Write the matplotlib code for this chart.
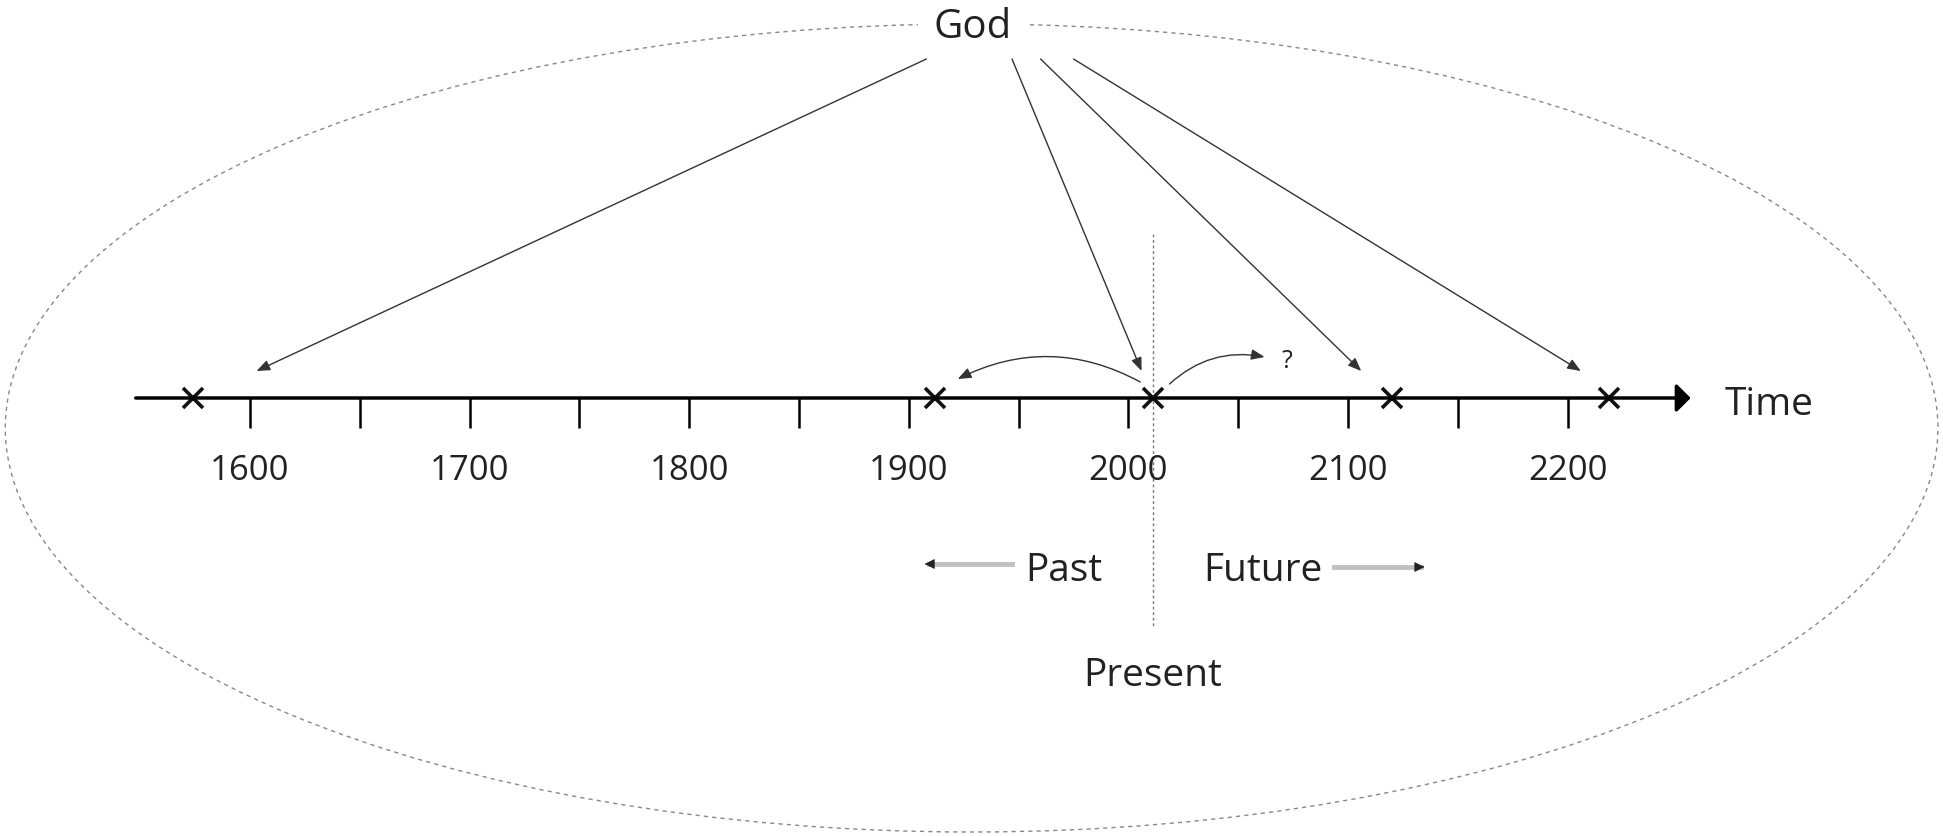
import numpy as np
import matplotlib.pyplot as plt
from matplotlib.patches import Ellipse

plt.rcParams["font.family"] = ["Open Sans", "DejaVu Sans"]

# timeline data (years)
tick_years = np.arange(1600, 2201, 50)
label_years = [1600, 1700, 1800, 1900, 2000, 2100, 2200]
event_years = [1574, 1912, 2011, 2120, 2219]
present_year = 2011
god_from = [1908, 1947, 1960, 1975]  # where the arrows leave "God"
god_to = [1603, 2006, 2106, 2206]  # where they land on the timeline
axis_start, axis_end = 1548, 2256

AXIS_Y = 399  # vertical layout is in pixel rows
TXT = "#222222"

fig = plt.figure(figsize=(19.43, 8.37), dpi=100)
ax = fig.add_axes([0, 0, 1, 1])
ax.set_xlim(1486.2, 2370.9)
ax.set_ylim(837, 0)
ax.axis("off")

# dashed ellipse around everything
ax.add_patch(Ellipse((1928.6, 429), width=880, height=808, fill=False,
                     ec="#888888", lw=1.0, ls=(0, (3, 3))))

# time axis with arrow
ax.annotate("", xy=(axis_end, AXIS_Y), xytext=(axis_start, AXIS_Y),
            arrowprops=dict(arrowstyle="-|>,head_length=0.5,head_width=0.5",
                            color="black", lw=2.5, mutation_scale=17,
                            shrinkA=0, shrinkB=0))
ax.vlines(tick_years, AXIS_Y, AXIS_Y + 30, color="black", lw=1.8)
for yr in label_years:
    ax.text(yr, 480, str(yr), ha="center", va="baseline", fontsize=25, color=TXT)
ax.text(2271.4, 415, "Time", ha="left", va="baseline", fontsize=28, color=TXT)

ax.plot(event_years, [AXIS_Y] * len(event_years), "x", color="#111111",
        ms=14, mew=2.6)

# God and its arrows
ax.text(1929.1, 38, "God", ha="center", va="baseline", fontsize=29, color=TXT,
        bbox=dict(fc="white", ec="none", pad=11))
for x0, x1 in zip(god_from, god_to):
    ax.annotate("", xy=(x1, 372), xytext=(x0, 60),
                arrowprops=dict(arrowstyle="-|>,head_length=0.8,head_width=0.32",
                                color="#333333", lw=1.0, mutation_scale=10,
                                shrinkA=0, shrinkB=0))

# curved arrows from the present
ax.annotate("", xy=(1922.3, 380), xytext=(2005.4, 383),
            arrowprops=dict(arrowstyle="-|>,head_length=0.8,head_width=0.32",
                            color="#333333", lw=1.0, mutation_scale=10,
                            shrinkA=0, shrinkB=0,
                            connectionstyle="arc3,rad=0.26"))
ax.annotate("", xy=(2062, 358), xytext=(2018.7, 385),
            arrowprops=dict(arrowstyle="-|>,head_length=0.8,head_width=0.32",
                            color="#333333", lw=1.0, mutation_scale=10,
                            shrinkA=0, shrinkB=0,
                            connectionstyle="arc3,rad=-0.25"))
ax.text(2069.7, 368, "?", ha="left", va="baseline", fontsize=18, color=TXT)

# present line
ax.plot([present_year, present_year], [235, 627], color="#777777", lw=1.0,
        ls=(0, (2, 2)))
ax.text(present_year, 686, "Present", ha="center", va="baseline", fontsize=28,
        color=TXT)

# past / future
ax.text(present_year - 23, 581, "Past", ha="right", va="baseline", fontsize=28,
        color=TXT)
ax.text(present_year + 23, 581, "Future", ha="left", va="baseline", fontsize=28,
        color=TXT)
ax.plot([1946.8, 1909], [565, 565], color="#c0c0c0", lw=3.5)
ax.annotate("", xy=(1907.2, 565), xytext=(1911, 565),
            arrowprops=dict(arrowstyle="-|>,head_length=0.8,head_width=0.4",
                            color="#222222", lw=0.5, mutation_scale=8,
                            shrinkA=0, shrinkB=0))
ax.plot([2093.8, 2133], [568, 568], color="#c0c0c0", lw=3.5)
ax.annotate("", xy=(2134.8, 568), xytext=(2131, 568),
            arrowprops=dict(arrowstyle="-|>,head_length=0.8,head_width=0.4",
                            color="#222222", lw=0.5, mutation_scale=8,
                            shrinkA=0, shrinkB=0))

fig.savefig("out.png", dpi=100)
